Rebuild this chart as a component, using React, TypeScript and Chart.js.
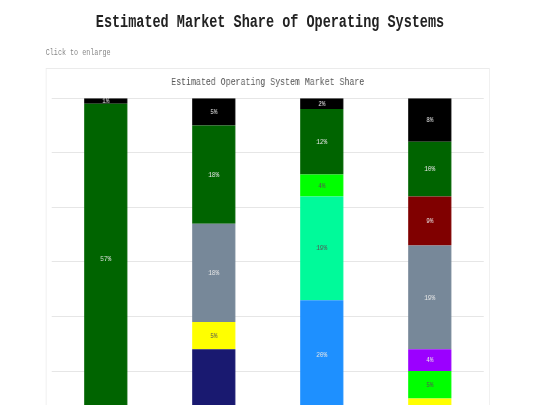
import React, { useEffect, useRef } from "react";
import { Chart, registerables } from "chart.js";

Chart.register(...registerables);

const categories = ["Desktop", "Server", "Mobile", "Embedded"];
const seriesNames = ["Series J", "Series I", "Series H", "Series G", "Series F", "Series E", "Series D", "Series C", "Series B", "Other"];
const seriesColors = ["#191970", "#ffff00", "#1e90ff", "#00fa9a", "#00ff00", "#9b00ff", "#778899", "#800000", "#006400", "#000000"];
const labelDark = [false, true, false, true, true, false, false, false, false, false];
const navyValues = [42, 54, 43, 30];
const yellowValues = [0, 5, 0, 15];
const blueValues = [0, 0, 20, 0];
const springValues = [0, 0, 19, 0];
const limeValues = [0, 0, 4, 5];
const purpleValues = [0, 0, 0, 4];
const grayValues = [0, 18, 0, 19];
const maroonValues = [0, 0, 0, 9];
const greenValues = [57, 18, 12, 10];
const otherValues = [1, 5, 2, 8];
const seriesValues = [navyValues, yellowValues, blueValues, springValues, limeValues, purpleValues, grayValues, maroonValues, greenValues, otherValues];
const yTicks = [0, 10, 20, 30, 40, 50, 60, 70, 80, 90, 100];

const MONO = '"Liberation Mono", "DejaVu Sans Mono", monospace';

const segmentLabels = {
  id: "segmentLabels",
  afterDatasetsDraw(chart: any) {
    const ctx = chart.ctx;
    ctx.save();
    ctx.font = `8px ${MONO}`;
    ctx.textAlign = "center";
    ctx.textBaseline = "middle";
    chart.data.datasets.forEach((ds: any, i: number) => {
      const meta = chart.getDatasetMeta(i);
      meta.data.forEach((el: any, j: number) => {
        const v = ds.data[j];
        if (!v) return;
        ctx.fillStyle = labelDark[i] ? "#555555" : "#e8e8e8";
        ctx.fillText(`${v}%`, el.x, (el.y + el.base) / 2);
      });
    });
    ctx.restore();
  },
};

export default function App() {
  const ref = useRef<HTMLCanvasElement | null>(null);
  useEffect(() => {
    if (!ref.current) return;
    const chart = new Chart(ref.current, {
      type: "bar",
      data: {
        labels: categories,
        datasets: seriesNames.map((name, i) => ({
          label: name,
          data: seriesValues[i],
          backgroundColor: seriesColors[i],
          borderWidth: 0,
          barPercentage: 0.5,
          categoryPercentage: 0.8,
        })),
      },
      options: {
        responsive: false,
        animation: false,
        devicePixelRatio: 1,
        layout: { padding: 0 },
        plugins: {
          legend: { display: false },
          tooltip: { enabled: false },
          title: {
            display: true,
            text: "Estimated Operating System Market Share",
            color: "#555555",
            font: { family: MONO, size: 11, weight: "normal" },
            padding: { top: 6, bottom: 10 },
          },
        },
        scales: {
          x: {
            stacked: true,
            grid: { display: false },
            border: { display: false },
            ticks: { color: "#666", font: { family: MONO, size: 10 } },
          },
          y: {
            stacked: true,
            min: yTicks[0],
            max: yTicks[yTicks.length - 1],
            ticks: { display: false, stepSize: 10 },
            grid: { color: "#e6e6e6", drawTicks: false },
            border: { display: false },
          },
        },
      },
      plugins: [segmentLabels],
    });
    return () => chart.destroy();
  }, []);

  return (
    <div style={{ position: "fixed", left: 0, top: 0, width: 540, height: 405, overflow: "hidden", background: "#fff" }}>
      <div
        style={{
          position: "absolute",
          left: 0,
          top: 0,
          width: 720,
          height: 900,
          transform: "scaleX(0.75)",
          transformOrigin: "0 0",
        }}
      >
        <div
          style={{
            position: "absolute",
            left: 0,
            top: 12,
            width: 720,
            textAlign: "center",
            fontFamily: MONO,
            fontWeight: "bold",
            fontSize: 18,
            lineHeight: "20px",
            color: "#222",
          }}
        >
          Estimated Market Share of Operating Systems
        </div>
        <div
          style={{
            position: "absolute",
            left: 61,
            top: 47,
            fontFamily: MONO,
            fontSize: 9,
            lineHeight: "12px",
            color: "#888",
          }}
        >
          Click to enlarge
        </div>
        <div
          style={{
            position: "absolute",
            left: 61.3,
            top: 68,
            width: 592,
            height: 760,
            boxSizing: "border-box",
            border: "1px solid #ebebeb",
            padding: "0 7px",
            background: "#fff",
          }}
        >
          <canvas ref={ref} width={576} height={601} style={{ display: "block", width: 576, height: 601 }} />
        </div>
      </div>
    </div>
  );
}
